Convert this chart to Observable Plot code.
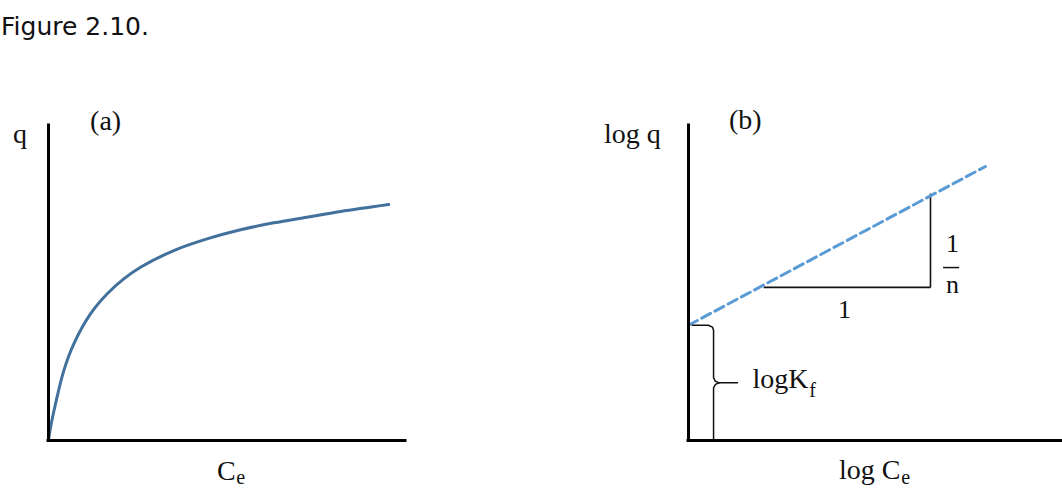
<!DOCTYPE html>
<html>
<head>
<meta charset="utf-8">
<script src="https://cdn.jsdelivr.net/npm/d3@7"></script>
<script src="https://cdn.jsdelivr.net/npm/@observablehq/plot@0.6"></script>
<style>
  html, body { margin: 0; padding: 0; background: #fff; }
  #title {
    height: 60px; box-sizing: border-box; padding-top: 12px; padding-left: 1px;
    font: 25px "DejaVu Sans", sans-serif; line-height: 30px; color: #111;
  }
  #row { display: flex; }
  #row svg { display: block; overflow: visible; }
</style>
</head>
<body>
<div id="title">Figure 2.10.</div>
<div id="row"></div>
<script>
// (a) Freundlich isotherm: adsorbed amount q against equilibrium concentration Ce
const ce = [0, 0.45, 1.96, 4.29, 7.09, 11.76, 16.45, 21.09, 25.77, 35.1, 44.4, 53.8, 63.1, 72.4, 81.8, 95.3];
const q  = [0, 3.4, 11.6, 22.2, 30.7, 40.2, 46.6, 51.3, 55.0, 60.3, 64.0, 66.9, 69.1, 70.9, 72.7, 74.9];

// (b) linearised form: log q = log Kf + (1/n) log Ce
const logCe = [0, 79.4];
const logQ = [36.6, 87.0];
const logKf = logQ[0];

// slope triangle: run "1" and rise "1/n"
const stepRun = [20.1, 64.7];
const stepRise = [48.6, 78.4];

const serif = "'Liberation Serif', 'DejaVu Serif', serif";
const ink = "#111";

const common = {
  width: 531, height: 428, marginTop: 65, marginBottom: 48,
  x: {domain: [0, 100], axis: null},
  y: {domain: [0, 100], axis: null},
  style: {fontFamily: serif, background: "transparent", overflow: "visible"}
};

const axes = [
  Plot.ruleY([0], {stroke: "#000", strokeWidth: 3, strokeLinecap: "square"}),
  Plot.ruleX([0], {stroke: "#000", strokeWidth: 3, strokeLinecap: "square"})
];

const label = (t, x, y, size, anchor = "middle") =>
  Plot.text([t], {x, y, text: d => d, fontSize: size, textAnchor: anchor, fill: ink});

const curveData = ce.map((c, i) => ({c, q: q[i]}));

const chartA = Plot.plot({
  ...common,
  marginLeft: 48, marginRight: 126,
  marks: [
    Plot.line(curveData, {x: "c", y: "q", stroke: "#41719c", strokeWidth: 3, curve: "catmull-rom"}),
    ...axes,
    label("q", -8, 97.3, 28),
    label("(a)", 16, 101.3, 28),
    label("C", 52.4, -9.6, 28, "end"),
    label("e", 52.6, -11.8, 20, "start")
  ]
});

const lineData = logCe.map((c, i) => ({c, q: logQ[i]}));

// legs of the slope triangle, read from the step arrays
const legs = [
  {x1: stepRun[0], x2: stepRun[1], y1: stepRise[0], y2: stepRise[0]},
  {x1: stepRun[1], x2: stepRun[1], y1: stepRise[0], y2: stepRise[1]}
];

// curly brace spanning the intercept, from log Kf down to zero
const mid = logKf / 2;
const braceTop = [
  {x: 1, y: logKf}, {x: 5.3, y: logKf}, {x: 6.4, y: logKf - 0.6}, {x: 6.7, y: logKf - 1.6},
  {x: 6.7, y: mid + 1.6}, {x: 7.2, y: mid + 0.5}, {x: 8.2, y: mid}, {x: 13.1, y: mid}
];
const braceBottom = [
  {x: 8.2, y: mid}, {x: 7.2, y: mid - 0.5}, {x: 6.7, y: mid - 1.6}, {x: 6.7, y: 0}
];

const chartB = Plot.plot({
  ...common,
  marginLeft: 157, marginRight: 0,
  marks: [
    Plot.link(legs, {x1: "x1", x2: "x2", y1: "y1", y2: "y2", stroke: ink, strokeWidth: 1.6}),
    Plot.line(lineData, {x: "c", y: "q", stroke: "#5b9bd5", strokeWidth: 3, strokeDasharray: "10,5"}),
    Plot.line(braceTop, {x: "x", y: "y", stroke: ink, strokeWidth: 1.5}),
    Plot.line(braceBottom, {x: "x", y: "y", stroke: ink, strokeWidth: 1.5}),
    ...axes,
    label("log q", -15, 97.3, 28),
    label("(b)", 15.2, 101.8, 28),
    label("1", 41.7, 41.5, 26),
    label("1", 70.6, 62.4, 26),
    Plot.ruleY([54.9], {x1: 68.2, x2: 72.5, stroke: ink, strokeWidth: 1.5}),
    label("n", 70.6, 49.4, 26),
    label("logK", 32.1, 19.6, 28, "end"),
    label("f", 32.3, 16.0, 20, "start"),
    label("log C", 56.7, -9.3, 28, "end"),
    label("e", 56.9, -11.8, 20, "start")
  ]
});

const row = document.getElementById("row");
row.appendChild(chartA);
row.appendChild(chartB);
</script>
</body>
</html>
